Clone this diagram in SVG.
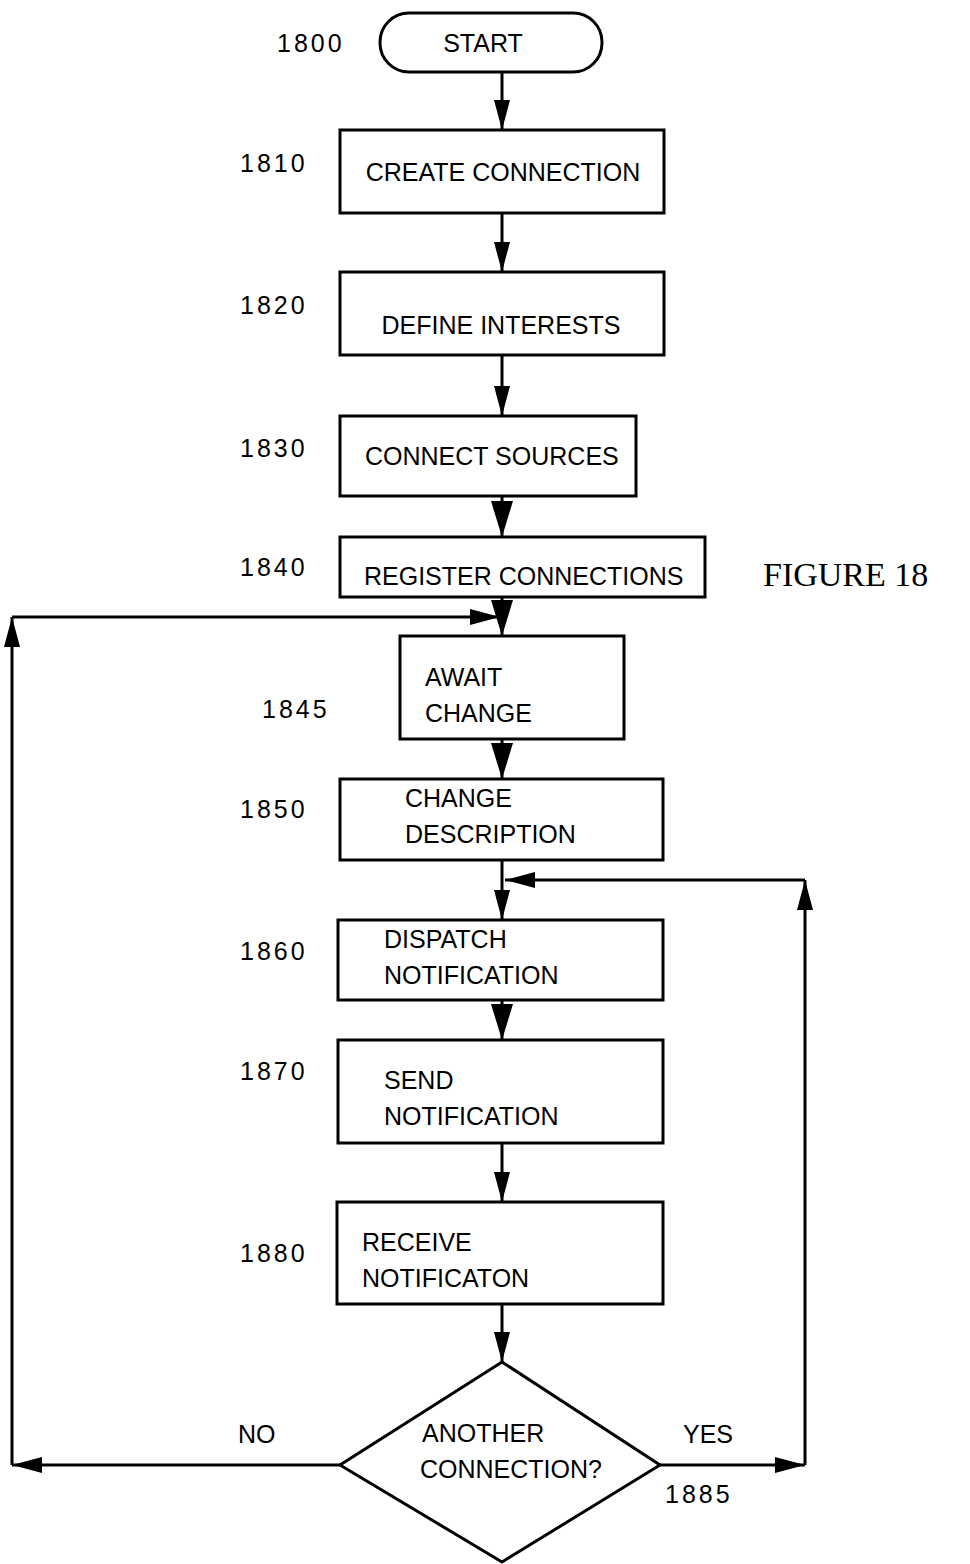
<svg xmlns="http://www.w3.org/2000/svg" width="970" height="1564" viewBox="0 0 970 1564">
<defs>
<marker id="ah" viewBox="0 0 30 16" refX="30" refY="8" markerWidth="30" markerHeight="16" markerUnits="userSpaceOnUse" orient="auto">
<path d="M0,0 L30,8 L0,16 Z" fill="#000"/>
</marker>
<marker id="ahb" viewBox="0 0 36 22" refX="36" refY="11" markerWidth="36" markerHeight="22" markerUnits="userSpaceOnUse" orient="auto">
<path d="M0,0 L36,11 L0,22 Z" fill="#000"/>
</marker>
</defs>
<style>
.box{fill:#fff;stroke:#000;stroke-width:3}
.t{font-family:"Liberation Sans",Arial,sans-serif;font-size:25px;fill:#000}
.lbl{font-family:"Liberation Sans",Arial,sans-serif;font-size:25px;letter-spacing:3px;fill:#000}
.c{fill:none;stroke:#000;stroke-width:3}
</style>
<rect width="970" height="1564" fill="#fff"/>
<g id="connectors">
<line class="c" x1="502" y1="72" x2="502" y2="130" marker-end="url(#ah)"/>
<line class="c" x1="502" y1="213" x2="502" y2="272" marker-end="url(#ah)"/>
<line class="c" x1="502" y1="355" x2="502" y2="416" marker-end="url(#ah)"/>
<line class="c" x1="502" y1="496" x2="502" y2="537" marker-end="url(#ahb)"/>
<line class="c" x1="502" y1="597" x2="502" y2="636" marker-end="url(#ahb)"/>
<line class="c" x1="340" y1="1465" x2="12" y2="1465" marker-end="url(#ah)"/>
<line class="c" x1="12" y1="1465" x2="12" y2="617" marker-end="url(#ah)"/>
<line class="c" x1="12" y1="617" x2="500" y2="617" marker-end="url(#ah)"/>
<line class="c" x1="502" y1="739" x2="502" y2="779" marker-end="url(#ahb)"/>
<line class="c" x1="502" y1="860" x2="502" y2="920" marker-end="url(#ah)"/>
<line class="c" x1="660" y1="1465" x2="805" y2="1465" marker-end="url(#ah)"/>
<line class="c" x1="805" y1="1465" x2="805" y2="880" marker-end="url(#ah)"/>
<line class="c" x1="805" y1="880" x2="505" y2="880" marker-end="url(#ah)"/>
<line class="c" x1="502" y1="1000" x2="502" y2="1040" marker-end="url(#ahb)"/>
<line class="c" x1="502" y1="1143" x2="502" y2="1202" marker-end="url(#ah)"/>
<line class="c" x1="502" y1="1304" x2="502" y2="1362" marker-end="url(#ah)"/>
</g>
<g id="n1800">
<rect class="box" x="380" y="13" width="222" height="59" rx="29" ry="29"/>
<text class="t" x="483" y="52" text-anchor="middle">START</text>
<text class="lbl" x="277" y="52">1800</text>
</g>
<g id="n1810">
<rect class="box" x="340" y="130" width="324" height="83"/>
<text class="t" x="503" y="181" text-anchor="middle">CREATE CONNECTION</text>
<text class="lbl" x="240" y="172">1810</text>
</g>
<g id="n1820">
<rect class="box" x="340" y="272" width="324" height="83"/>
<text class="t" x="501" y="334" text-anchor="middle">DEFINE INTERESTS</text>
<text class="lbl" x="240" y="314">1820</text>
</g>
<g id="n1830">
<rect class="box" x="340" y="416" width="296" height="80"/>
<text class="t" x="365" y="465">CONNECT SOURCES</text>
<text class="lbl" x="240" y="457">1830</text>
</g>
<g id="n1840">
<rect class="box" x="340" y="537" width="365" height="60"/>
<text class="t" x="364" y="585">REGISTER CONNECTIONS</text>
<text class="lbl" x="240" y="576">1840</text>
</g>
<text x="763" y="586" font-family="'Liberation Serif','Times New Roman',serif" font-size="34">FIGURE 18</text>
<g id="n1845">
<rect class="box" x="400" y="636" width="224" height="103"/>
<text class="t" x="425" y="686">AWAIT</text>
<text class="t" x="425" y="722">CHANGE</text>
<text class="lbl" x="262" y="718">1845</text>
</g>
<g id="n1850">
<rect class="box" x="340" y="779" width="323" height="81"/>
<text class="t" x="405" y="807">CHANGE</text>
<text class="t" x="405" y="843">DESCRIPTION</text>
<text class="lbl" x="240" y="818">1850</text>
</g>
<g id="n1860">
<rect class="box" x="338" y="920" width="325" height="80"/>
<text class="t" x="384" y="948">DISPATCH</text>
<text class="t" x="384" y="984">NOTIFICATION</text>
<text class="lbl" x="240" y="960">1860</text>
</g>
<g id="n1870">
<rect class="box" x="338" y="1040" width="325" height="103"/>
<text class="t" x="384" y="1089">SEND</text>
<text class="t" x="384" y="1125">NOTIFICATION</text>
<text class="lbl" x="240" y="1080">1870</text>
</g>
<g id="n1880">
<rect class="box" x="337" y="1202" width="326" height="102"/>
<text class="t" x="362" y="1251">RECEIVE</text>
<text class="t" x="362" y="1287">NOTIFICATON</text>
<text class="lbl" x="240" y="1262">1880</text>
</g>
<g id="n1885">
<polygon class="box" points="502,1362 660,1465 502,1562 340,1465"/>
<text class="t" x="422" y="1442">ANOTHER</text>
<text class="t" x="420" y="1478">CONNECTION?</text>
<text class="lbl" x="665" y="1503">1885</text>
</g>
<text class="t" x="238" y="1443">NO</text>
<text class="t" x="683" y="1443">YES</text>
</svg>
